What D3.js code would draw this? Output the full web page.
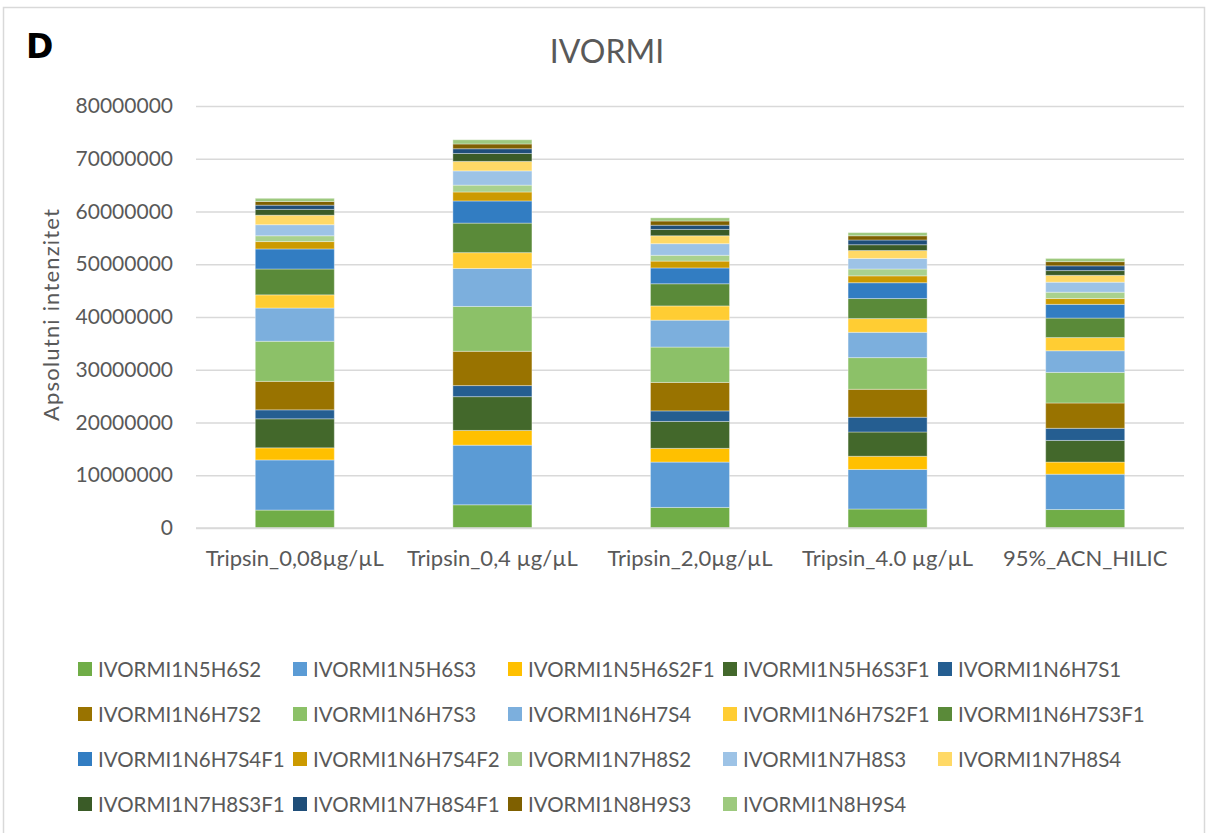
<!DOCTYPE html>
<html>
<head>
<meta charset="utf-8">
<script src="https://cdn.jsdelivr.net/npm/d3@7"></script>
<style>
  body { margin: 0; background: #fff; }
  text { font-family: Lato, "Noto Sans", sans-serif; fill: #595959; }
</style>
</head>
<body>
<svg id="chart" width="1208" height="833"></svg>
<script>
const categories = [
  "Tripsin_0,08µg/µL",
  "Tripsin_0,4 µg/µL",
  "Tripsin_2,0µg/µL",
  "Tripsin_4.0 µg/µL",
  "95%_ACN_HILIC"
];

const seriesNames = [
  "IVORMI1N5H6S2", "IVORMI1N5H6S3", "IVORMI1N5H6S2F1", "IVORMI1N5H6S3F1", "IVORMI1N6H7S1",
  "IVORMI1N6H7S2", "IVORMI1N6H7S3", "IVORMI1N6H7S4", "IVORMI1N6H7S2F1", "IVORMI1N6H7S3F1",
  "IVORMI1N6H7S4F1", "IVORMI1N6H7S4F2", "IVORMI1N7H8S2", "IVORMI1N7H8S3", "IVORMI1N7H8S4",
  "IVORMI1N7H8S3F1", "IVORMI1N7H8S4F1", "IVORMI1N8H9S3", "IVORMI1N8H9S4"
];

// one row per series, one value per category (same order as categories)
const values = [
  [3400000, 4400000, 3900000, 3600000, 3500000],
  [9500000, 11300000, 8600000, 7500000, 6700000],
  [2300000, 2800000, 2600000, 2500000, 2300000],
  [5500000, 6400000, 5100000, 4600000, 4100000],
  [1700000, 2100000, 2000000, 2800000, 2300000],
  [5400000, 6500000, 5400000, 5300000, 4800000],
  [7600000, 8500000, 6700000, 6000000, 5800000],
  [6300000, 7200000, 5100000, 4800000, 4100000],
  [2500000, 3000000, 2700000, 2600000, 2500000],
  [4900000, 5600000, 4200000, 3800000, 3700000],
  [3800000, 4200000, 3000000, 3000000, 2600000],
  [1400000, 1700000, 1300000, 1300000, 1100000],
  [1100000, 1300000, 1100000, 1300000, 1200000],
  [2100000, 2700000, 2200000, 2000000, 1900000],
  [1800000, 1800000, 1500000, 1500000, 1300000],
  [1100000, 1500000, 1200000, 1100000, 900000],
  [800000, 900000, 800000, 900000, 900000],
  [700000, 900000, 800000, 800000, 800000],
  [600000, 800000, 600000, 600000, 600000]
];

const yTicks = [0, 10000000, 20000000, 30000000, 40000000, 50000000, 60000000, 70000000, 80000000];

const colors = [
  "#70AD47", "#5B9BD5", "#FFC000", "#43682B", "#255E91",
  "#997300", "#8CC168", "#7CAFDD", "#FFCD33", "#5A8A39",
  "#327DC2", "#CC9A00", "#A9D18E", "#9DC3E6", "#FFD966",
  "#3A5B27", "#1F4E79", "#7F6000", "#9DC97E"
];

const svg = d3.select("#chart");

// outer frame
svg.append("rect")
  .attr("x", 3.5).attr("y", 7.5)
  .attr("width", 1201).attr("height", 840)
  .attr("fill", "#fff")
  .attr("stroke", "#d9d9d9")
  .attr("stroke-width", 1.5);

// panel letter and title
svg.append("text")
  .attr("x", 26).attr("y", 58)
  .style("font-family", "'DejaVu Sans', sans-serif")
  .style("font-weight", "bold")
  .style("font-size", "33px")
  .style("fill", "#000")
  .text("D");

svg.append("text")
  .attr("x", 607).attr("y", 63)
  .attr("text-anchor", "middle")
  .style("font-size", "32px")
  .text("IVORMI");

/* scales */
const x = d3.scaleBand()
  .domain(categories)
  .range([196, 1184])
  .paddingInner(0.6)
  .paddingOuter(0.3);

const y = d3.scaleLinear()
  .domain([0, 80000000])
  .range([528, 106]);

/* gridlines + y labels */
const yAxis = svg.append("g")
  .attr("transform", "translate(196,0)")
  .call(d3.axisLeft(y).tickValues(yTicks).tickFormat(d3.format("d")).tickSize(-988).tickPadding(23));

yAxis.select(".domain").remove();
yAxis.selectAll(".tick line")
  .attr("stroke", "#d9d9d9")
  .attr("stroke-width", 1.5);
yAxis.selectAll(".tick text")
  .style("font-size", "21px")
  .style("fill", "#595959")
  .style("font-family", "Lato, sans-serif");

/* stacked bars */
const rows = categories.map((c, i) => {
  const r = { category: c };
  seriesNames.forEach((s, j) => { r[s] = values[j][i]; });
  return r;
});

const stacked = d3.stack().keys(seriesNames)(rows);

svg.append("g")
  .selectAll("g")
  .data(stacked)
  .join("g")
  .attr("fill", (d, i) => colors[i])
  .selectAll("rect")
  .data(d => d)
  .join("rect")
  .attr("x", d => x(d.data.category))
  .attr("width", x.bandwidth())
  .attr("y", d => y(d[1]))
  .attr("height", d => y(d[0]) - y(d[1]))
  .attr("stroke", "rgba(255,255,255,0.35)")
  .attr("stroke-width", 1);

/* x axis line + category labels */
svg.append("line")
  .attr("x1", 196).attr("x2", 1184)
  .attr("y1", y(0)).attr("y2", y(0))
  .attr("stroke", "#d9d9d9")
  .attr("stroke-width", 1.5);

svg.append("g")
  .selectAll("text")
  .data(categories)
  .join("text")
  .attr("x", d => x(d) + x.bandwidth() / 2)
  .attr("y", 566)
  .attr("text-anchor", "middle")
  .style("font-size", "22px")
  .text(d => d);

// y axis title
svg.append("text")
  .attr("transform", "translate(59,315) rotate(-90)")
  .attr("text-anchor", "middle")
  .attr("textLength", 212)
  .attr("lengthAdjust", "spacing")
  .style("font-size", "22px")
  .text("Apsolutni intenzitet");

/* legend */
const legendCols = 5;
const legend = svg.append("g")
  .selectAll("g")
  .data(seriesNames)
  .join("g")
  .attr("transform", (d, i) => {
    const col = i % legendCols;
    const row = Math.floor(i / legendCols);
    return `translate(${78 + col * 215},${669 + row * 45})`;
  });

legend.append("rect")
  .attr("x", 0).attr("y", -7)
  .attr("width", 14).attr("height", 14)
  .attr("fill", (d, i) => colors[i]);

legend.append("text")
  .attr("x", 20)
  .attr("y", 7.5)
  .style("font-size", "20.5px")
  .text(d => d);
</script>
</body>
</html>
